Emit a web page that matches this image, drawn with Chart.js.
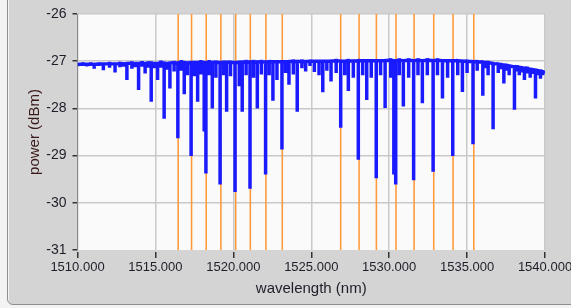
<!DOCTYPE html>
<html>
<head>
<meta charset="utf-8">
<script src="https://cdn.jsdelivr.net/npm/chart.js@4/dist/chart.umd.min.js"></script>
<style>
  body { margin: 0; background: #f3f3f3; overflow: hidden; }
  #panel {
    position: absolute; left: 7px; top: -8px; width: 580px; height: 311px;
    background: #d4d4d4; border: 1px solid #8e8e8e; border-radius: 6px;
    box-shadow: inset 1px 1px 0 #f4f4f4;
  }
  #chart { position: absolute; left: 0; top: 0; }
</style>
</head>
<body>
<div id="panel"></div>
<canvas id="chart" width="571" height="308"></canvas>
<script>

// x ticks (nm) and y ticks (dBm)
const xTicks = [1510, 1515, 1520, 1525, 1530, 1535, 1540];
const yTicks = [-31, -30, -29, -28, -27, -26];

// orange marker wavelengths (nm)
const markerWl = [1516.46, 1517.32, 1518.26, 1519.20, 1520.15, 1521.09, 1522.09, 1523.14,
                  1526.89, 1528.07, 1529.18, 1530.44, 1531.60, 1532.86, 1534.10, 1535.43];

// spectrum dips: wavelength, dip bottom, local baseline (dBm)
const dipWl = [
  1510.00, 1510.35, 1510.60, 1510.85, 1511.07, 1511.35, 1511.66, 1512.06, 1512.41, 1512.72,
  1512.95, 1513.17, 1513.49, 1513.70, 1513.92, 1514.15, 1514.34, 1514.52, 1514.73, 1514.95,
  1515.14, 1515.35, 1515.56, 1515.75, 1515.93, 1516.20, 1516.44, 1516.65, 1516.85, 1517.05,
  1517.29, 1517.50, 1517.71, 1517.92, 1518.13, 1518.24, 1518.45, 1518.65, 1518.88, 1519.15,
  1519.38, 1519.57, 1519.82, 1520.11, 1520.38, 1520.57, 1520.82, 1521.07, 1521.30, 1521.54,
  1521.80, 1522.07, 1522.30, 1522.54, 1522.80, 1523.12, 1523.35, 1523.57, 1523.85, 1524.10,
  1524.40, 1524.64, 1524.92, 1525.20, 1525.50, 1525.74, 1526.00, 1526.27, 1526.60, 1526.89,
  1527.15, 1527.38, 1527.70, 1528.02, 1528.30, 1528.56, 1528.85, 1529.17, 1529.45, 1529.74,
  1530.10, 1530.30, 1530.42, 1530.65, 1530.91, 1531.25, 1531.57, 1531.85, 1532.13, 1532.45,
  1532.82, 1533.10, 1533.42, 1533.75, 1534.08, 1534.40, 1534.70, 1535.00, 1535.38, 1535.65,
  1536.01, 1536.20, 1536.35, 1536.67, 1537.00, 1537.18, 1537.36, 1537.55, 1537.70, 1538.04,
  1538.20, 1538.35, 1538.52, 1538.68, 1538.85, 1539.05, 1539.22, 1539.39, 1539.55, 1539.71,
  1539.85, 1540.00
];
const dipLow = [
  -27.07, -27.10, -27.11, -27.10, -27.16, -27.10, -27.19, -27.14, -27.24, -27.13,
  -27.12, -27.40, -27.16, -27.13, -27.61, -27.12, -27.26, -27.14, -27.86, -27.15,
  -27.40, -27.14, -28.22, -27.18, -27.58, -27.22, -28.63, -27.20, -27.70, -27.30,
  -29.01, -27.32, -27.86, -27.28, -28.49, -29.38, -27.30, -28.00, -27.35, -29.61,
  -27.30, -28.07, -27.32, -29.77, -27.53, -28.07, -27.30, -29.70, -27.35, -28.00,
  -27.28, -29.40, -27.30, -27.84, -27.40, -28.87, -27.25, -27.50, -27.28, -28.07,
  -27.15, -27.22, -27.10, -27.23, -27.30, -27.66, -27.20, -27.43, -27.25, -28.41,
  -27.30, -27.63, -27.35, -29.09, -27.30, -27.82, -27.35, -29.48, -27.30, -27.99,
  -27.35, -29.40, -29.61, -27.30, -27.96, -27.35, -29.52, -27.30, -27.89, -27.30,
  -29.34, -27.30, -27.79, -27.35, -29.01, -27.30, -27.65, -27.25, -28.76, -27.20,
  -27.73, -27.15, -27.30, -28.44, -27.25, -27.17, -27.47, -27.20, -27.30, -28.03,
  -27.22, -27.30, -27.24, -27.40, -27.26, -27.35, -27.27, -27.79, -27.30, -27.37,
  -27.30, -27.26
];
const dipTop = [
  -27.07, -27.06, -27.07, -27.06, -27.07, -27.06, -27.06, -27.05, -27.06, -27.05,
  -27.06, -27.05, -27.04, -27.05, -27.05, -27.04, -27.05, -27.04, -27.04, -27.05,
  -27.05, -27.03, -27.04, -27.05, -27.04, -27.03, -27.04, -27.02, -27.03, -27.04,
  -27.03, -27.03, -27.03, -27.02, -27.03, -27.03, -27.02, -27.03, -27.02, -27.03,
  -27.02, -27.02, -27.02, -27.03, -27.02, -27.02, -27.01, -27.02, -27.01, -27.02,
  -27.01, -27.02, -27.01, -27.01, -27.01, -27.01, -27.01, -27.01, -27.00, -27.01,
  -27.00, -27.01, -27.00, -27.00, -27.00, -27.00, -27.00, -27.00, -26.99, -27.00,
  -27.00, -26.99, -27.00, -26.99, -26.99, -26.99, -26.99, -26.99, -26.99, -26.99,
  -26.98, -26.99, -26.99, -26.98, -26.99, -26.98, -26.99, -26.98, -26.99, -26.98,
  -26.99, -26.98, -26.99, -26.99, -26.99, -26.99, -27.00, -27.00, -27.01, -27.01,
  -27.02, -27.03, -27.03, -27.05, -27.06, -27.07, -27.08, -27.09, -27.10, -27.12,
  -27.12, -27.13, -27.14, -27.15, -27.15, -27.17, -27.18, -27.19, -27.20, -27.21,
  -27.22, -27.24
];

// build line points: each dip is a vertical stroke from baseline to bottom
let spectrum = [];
dipWl.forEach((w, i) => {
  spectrum.push({x: w, y: dipTop[i]}, {x: w, y: dipLow[i]}, {x: w, y: dipTop[i]});
});

let markers = [];
markerWl.forEach(w => {
  markers.push({x: w, y: yTicks[yTicks.length - 1]}, {x: w, y: yTicks[0]}, {x: w, y: null});
});

// plot area background
const plotBg = {
  id: 'plotBg',
  beforeDraw(chart) {
    const a = chart.chartArea, ctx = chart.ctx;
    ctx.save();
    ctx.fillStyle = '#fafafa';
    ctx.fillRect(a.left, a.top, a.right - a.left, a.bottom - a.top);
    ctx.restore();
  }
};

new Chart(document.getElementById('chart').getContext('2d'), {
  type: 'line',
  data: {
    datasets: [
      {
        data: spectrum,
        borderColor: '#1a1aff',
        borderWidth: 3.5,
        pointRadius: 0,
        tension: 0,
        order: 0
      },
      {
        data: markers,
        borderColor: '#ff9b3d',
        borderWidth: 1.6,
        pointRadius: 0,
        spanGaps: false,
        order: 1
      }
    ]
  },
  options: {
    responsive: false,
    animation: false,
    devicePixelRatio: 1,
    layout: { padding: { left: 0, right: 26, top: 14, bottom: 0 } },
    plugins: { legend: { display: false }, tooltip: { enabled: false } },
    scales: {
      x: {
        type: 'linear',
        min: 1510, max: 1540,
        afterBuildTicks: s => { s.ticks = xTicks.map(v => ({value: v})); },
        afterFit: s => { s.height = 58; s.paddingRight = 0; s.paddingLeft = 0; },
        ticks: {
          callback: v => v.toFixed(3),
          color: '#1e1e2a',
          font: { family: 'Liberation Sans', size: 13 },
          padding: 2,
          maxRotation: 0
        },
        grid: {
          color: '#c9c9c9',
          lineWidth: 1.5,
          tickLength: 8,
          tickColor: '#333',
          tickWidth: 1.5,
          tickBorderDash: [0, 2, 6, 30]
        },
        border: { display: false },
        title: {
          display: true,
          text: 'wavelength (nm)',
          color: '#1e1e2a',
          font: { family: 'Liberation Sans', size: 15 },
          padding: { top: 0, bottom: 10 }
        }
      },
      y: {
        min: -31, max: -26,
        afterBuildTicks: s => { s.ticks = yTicks.map(v => ({value: v})); },
        afterFit: s => { s.width = 77.5; s.paddingTop = 0; s.paddingBottom = 0; },
        ticks: {
          color: '#1e1e2a',
          font: { family: 'Liberation Sans', size: 14 },
          padding: 3
        },
        grid: {
          color: ctx => ctx.tick && ctx.tick.value === -31 ? 'rgba(0,0,0,0)' : '#c9c9c9',
          lineWidth: 1.5,
          tickLength: 8,
          tickColor: '#333',
          tickWidth: 1.5,
          tickBorderDash: [0, 3, 5, 30]
        },
        border: { display: true, color: '#8a8a8a', width: 1 },
        title: {
          display: true,
          text: 'power (dBm)',
          color: '#3a1a1a',
          font: { family: 'Liberation Sans', size: 15 },
          padding: { top: 26, bottom: 0 }
        }
      }
    }
  },
  plugins: [plotBg]
});
</script>
</body>
</html>
